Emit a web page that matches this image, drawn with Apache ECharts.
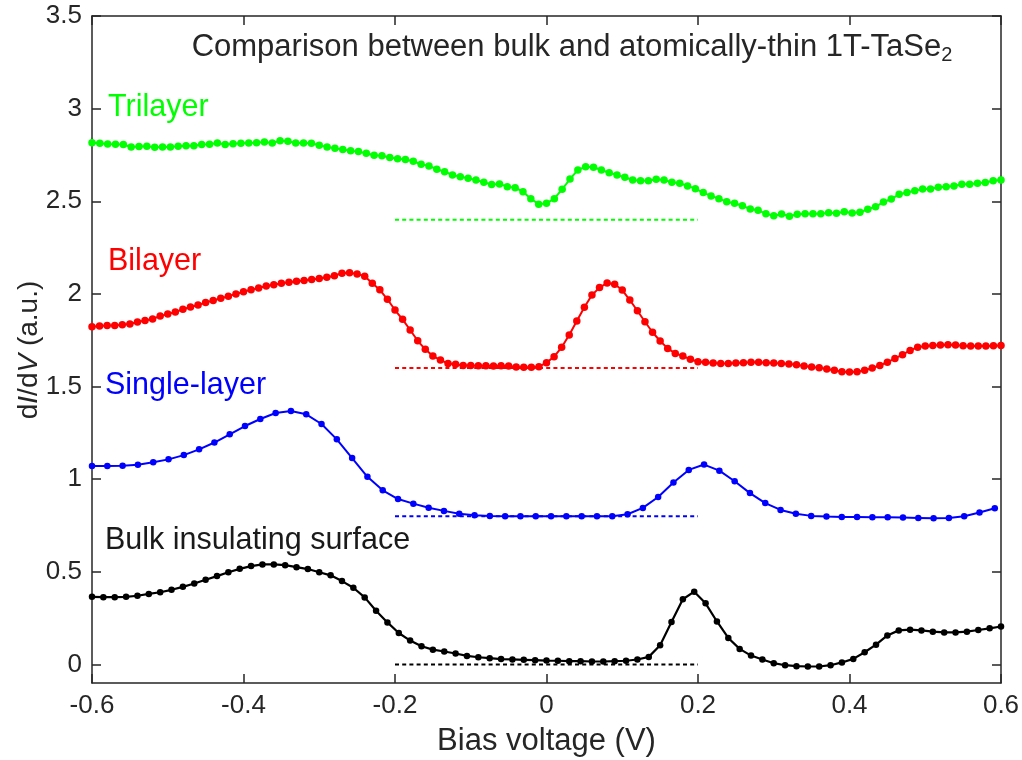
<!DOCTYPE html>
<html><head><meta charset="utf-8">
<script src="https://cdn.jsdelivr.net/npm/echarts@6/dist/echarts.min.js"></script>
<style>html,body{margin:0;padding:0;background:#fff}#c{width:1022px;height:760px}</style>
</head><body><div id="c"></div>
<script>
// ---- data ----
const biasStart = -0.6;
const trilayerStep = 1.2 / 116;
const bilayerStep = 0.01;
const singleLayerStep = 0.0202;
const bulkStep = 0.015;

const trilayer = [2.816,2.813,2.809,2.808,2.806,2.793,2.795,2.797,2.791,2.793,2.793,2.797,2.800,2.800,2.806,2.808,2.815,2.806,2.811,2.813,2.815,2.816,2.820,2.815,2.827,2.824,2.815,2.815,2.813,2.802,2.793,2.786,2.779,2.773,2.768,2.759,2.748,
2.746,2.736,2.730,2.725,2.716,2.700,2.691,2.673,2.660,2.642,2.633,2.624,2.615,2.603,2.590,2.593,2.579,2.573,2.552,2.514,2.484,2.489,2.514,2.565,2.620,2.669,2.687,2.684,2.669,2.654,2.642,2.630,2.615,2.611,2.611,2.619,2.615,2.603,2.597,2.583,2.568,
2.547,2.529,2.514,2.498,2.489,2.476,2.458,2.451,2.433,2.422,2.431,2.419,2.430,2.433,2.433,2.433,2.438,2.435,2.444,2.437,2.441,2.457,2.471,2.496,2.512,2.538,2.547,2.557,2.566,2.566,2.576,2.579,2.583,2.592,2.592,2.597,2.601,2.611,2.615];

const bilayer = [1.823,1.827,1.829,1.830,1.834,1.838,1.848,1.857,1.865,1.881,1.891,1.902,1.917,1.929,1.940,1.953,1.965,1.976,1.987,2.000,2.012,2.023,2.032,2.043,2.050,2.057,2.063,2.068,2.073,2.078,2.083,2.090,2.098,2.112,2.114,2.108,2.095,2.058,2.022,1.971,1.913,
1.863,1.805,1.747,1.701,1.665,1.643,1.625,1.620,1.614,1.614,1.612,1.612,1.611,1.612,1.611,1.605,1.604,1.604,1.607,1.629,1.661,1.712,1.778,1.854,1.928,1.994,2.034,2.059,2.052,2.021,1.967,1.909,1.850,1.793,1.746,1.706,1.679,
1.665,1.647,1.634,1.631,1.627,1.625,1.625,1.627,1.629,1.631,1.631,1.629,1.627,1.625,1.622,1.618,1.611,1.605,1.602,1.595,1.588,1.580,1.578,1.580,1.588,1.600,1.614,1.631,1.652,1.672,1.695,1.712,1.719,1.722,1.724,1.726,1.724,1.720,1.719,1.719,1.719,1.720,1.722];

const singleLayer = [1.071,1.071,1.073,1.078,1.091,1.107,1.130,1.161,1.198,1.242,1.287,1.325,1.357,1.368,1.350,1.298,1.215,1.114,1.013,
0.940,0.893,0.868,0.846,0.829,0.814,0.805,0.802,0.800,0.800,0.800,0.800,0.800,0.800,0.800,0.800,0.811,0.845,0.904,0.982,1.050,1.079,1.046,0.989,0.925,0.871,0.834,0.813,0.802,0.798,0.796,0.796,0.795,0.795,0.793,0.791,0.789,0.791,0.800,0.820,0.843];

const bulk = [0.365,0.363,0.363,0.365,0.371,0.381,0.390,0.403,0.419,0.437,0.457,0.477,0.498,0.516,0.531,0.540,0.540,0.536,0.525,0.515,0.498,0.481,0.450,0.414,0.362,0.290,
0.227,0.170,0.129,0.098,0.080,0.070,0.059,0.046,0.039,0.034,0.029,0.027,0.025,0.023,0.021,0.020,0.018,0.018,0.016,0.016,0.018,0.020,0.027,0.041,0.104,0.229,0.352,0.393,0.330,0.232,0.143,0.084,0.048,0.027,0.007,-0.004,-0.009,-0.011,-0.011,-0.004,0.011,0.030,0.066,0.107,0.157,0.184,0.188,0.184,0.177,0.173,0.173,0.177,0.186,0.195,0.205];

const baselineLevels = [2.4, 1.6, 0.8, 0.0];
const baselineBias = [-0.2, 0.2];
const yTicks = [0, 0.5, 1, 1.5, 2, 2.5, 3, 3.5];
const seriesNames = ['Trilayer', 'Bilayer', 'Single-layer', 'Bulk insulating surface'];
const titleText = 'Comparison between bulk and atomically-thin 1T-TaSe';
const titleSub = '2';
const yAxisTitle = '{n|d}{i|I}{n|/d}{i|V}{n| (a.u.)}';

// ---- build ----
function pairs(vals, step) { return vals.map((v, i) => [biasStart + i * step, v]); }
const colors = ['#00ff00', '#ff0000', '#0000ff', '#000000'];
const curves = [
  {vals: trilayer, step: trilayerStep, sym: 7.5, lw: 2},
  {vals: bilayer, step: bilayerStep, sym: 7.5, lw: 2},
  {vals: singleLayer, step: singleLayerStep, sym: 6.5, lw: 2},
  {vals: bulk, step: bulkStep, sym: 6.5, lw: 2.2}
];
const FONT = 'Liberation Sans, Arial, sans-serif';
const TXT = '#262626';
const series = [];
baselineLevels.forEach((lv, k) => {
  series.push({type: 'line', data: baselineBias.map(b => [b, lv]), showSymbol: false, silent: true,
    lineStyle: {color: colors[k], width: 2, type: [4, 3.2]}, z: 1});
});
curves.forEach((c, k) => {
  series.push({type: 'line', name: seriesNames[k], data: pairs(c.vals, c.step), symbol: 'circle', symbolSize: c.sym,
    showAllSymbol: true, itemStyle: {color: colors[k], borderWidth: 0},
    lineStyle: {color: colors[k], width: c.lw}, z: 3});
});

const axisLine = {show: true, onZero: false, lineStyle: {color: TXT, width: 1.5}};
const option = {
  animation: false,
  backgroundColor: '#fff',
  grid: {left: 92, right: 21, top: 16, bottom: 77, containLabel: false, outerBoundsMode: 'none'},
  xAxis: [
    {type: 'value', min: -0.6, max: 0.6, interval: 0.2, position: 'bottom',
     axisLine, axisTick: {show: true, inside: true, length: 9, lineStyle: {color: TXT, width: 1.5}},
     axisLabel: {fontSize: 26, color: TXT, fontFamily: FONT, margin: 10},
     splitLine: {show: false},
     name: 'Bias voltage (V)', nameLocation: 'middle', nameGap: 43,
     nameTextStyle: {fontSize: 31, color: TXT, fontFamily: FONT}},
    {type: 'value', min: -0.6, max: 0.6, interval: 0.2, position: 'top',
     axisLine, axisTick: {show: true, inside: true, length: 9, lineStyle: {color: TXT, width: 1.5}},
     axisLabel: {show: false}, splitLine: {show: false}}
  ],
  yAxis: [
    {type: 'value', min: -0.1, max: 3.5, position: 'left',
     axisLine, axisTick: {show: true, inside: true, length: 9, customValues: yTicks, lineStyle: {color: TXT, width: 1.5}},
     axisLabel: {fontSize: 26, color: TXT, fontFamily: FONT, margin: 10, customValues: yTicks},
     splitLine: {show: false}},
    {type: 'value', min: -0.1, max: 3.5, position: 'right',
     axisLine, axisTick: {show: true, inside: true, length: 9, customValues: yTicks, lineStyle: {color: TXT, width: 1.5}},
     axisLabel: {show: false, customValues: yTicks}, splitLine: {show: false}}
  ],
  graphic: [
    {type: 'text', x: 29, y: 350, rotation: Math.PI / 2,
     style: {text: yAxisTitle, align: 'center', verticalAlign: 'middle',
       rich: {n: {fontSize: 28, fill: TXT, fontFamily: FONT}, i: {fontSize: 28, fill: TXT, fontFamily: FONT, fontStyle: 'italic'}}}},
    {type: 'text', x: 572, y: 47, style: {text: '{a|' + titleText + '}{s|' + titleSub + '}', align: 'center', verticalAlign: 'middle',
      rich: {a: {fontSize: 31, fill: TXT, fontFamily: FONT, height: 34, verticalAlign: 'middle'},
             s: {fontSize: 20, fill: TXT, fontFamily: FONT, verticalAlign: 'bottom', height: 34, padding: [16, 0, 0, 0]}}}},
    {type: 'text', x: 108, y: 108, style: {text: seriesNames[0], fill: colors[0], fontSize: 30.5, fontFamily: FONT, verticalAlign: 'middle'}},
    {type: 'text', x: 108, y: 262, style: {text: seriesNames[1], fill: colors[1], fontSize: 30.5, fontFamily: FONT, verticalAlign: 'middle'}},
    {type: 'text', x: 105, y: 386, style: {text: seriesNames[2], fill: colors[2], fontSize: 30.5, fontFamily: FONT, verticalAlign: 'middle'}},
    {type: 'text', x: 105, y: 541, style: {text: seriesNames[3], fill: '#1a1a1a', fontSize: 30.5, fontFamily: FONT, verticalAlign: 'middle'}}
  ],
  series
};
const chart = echarts.init(document.getElementById('c'), null, {renderer: 'canvas'});
chart.setOption(option);
</script></body></html>
